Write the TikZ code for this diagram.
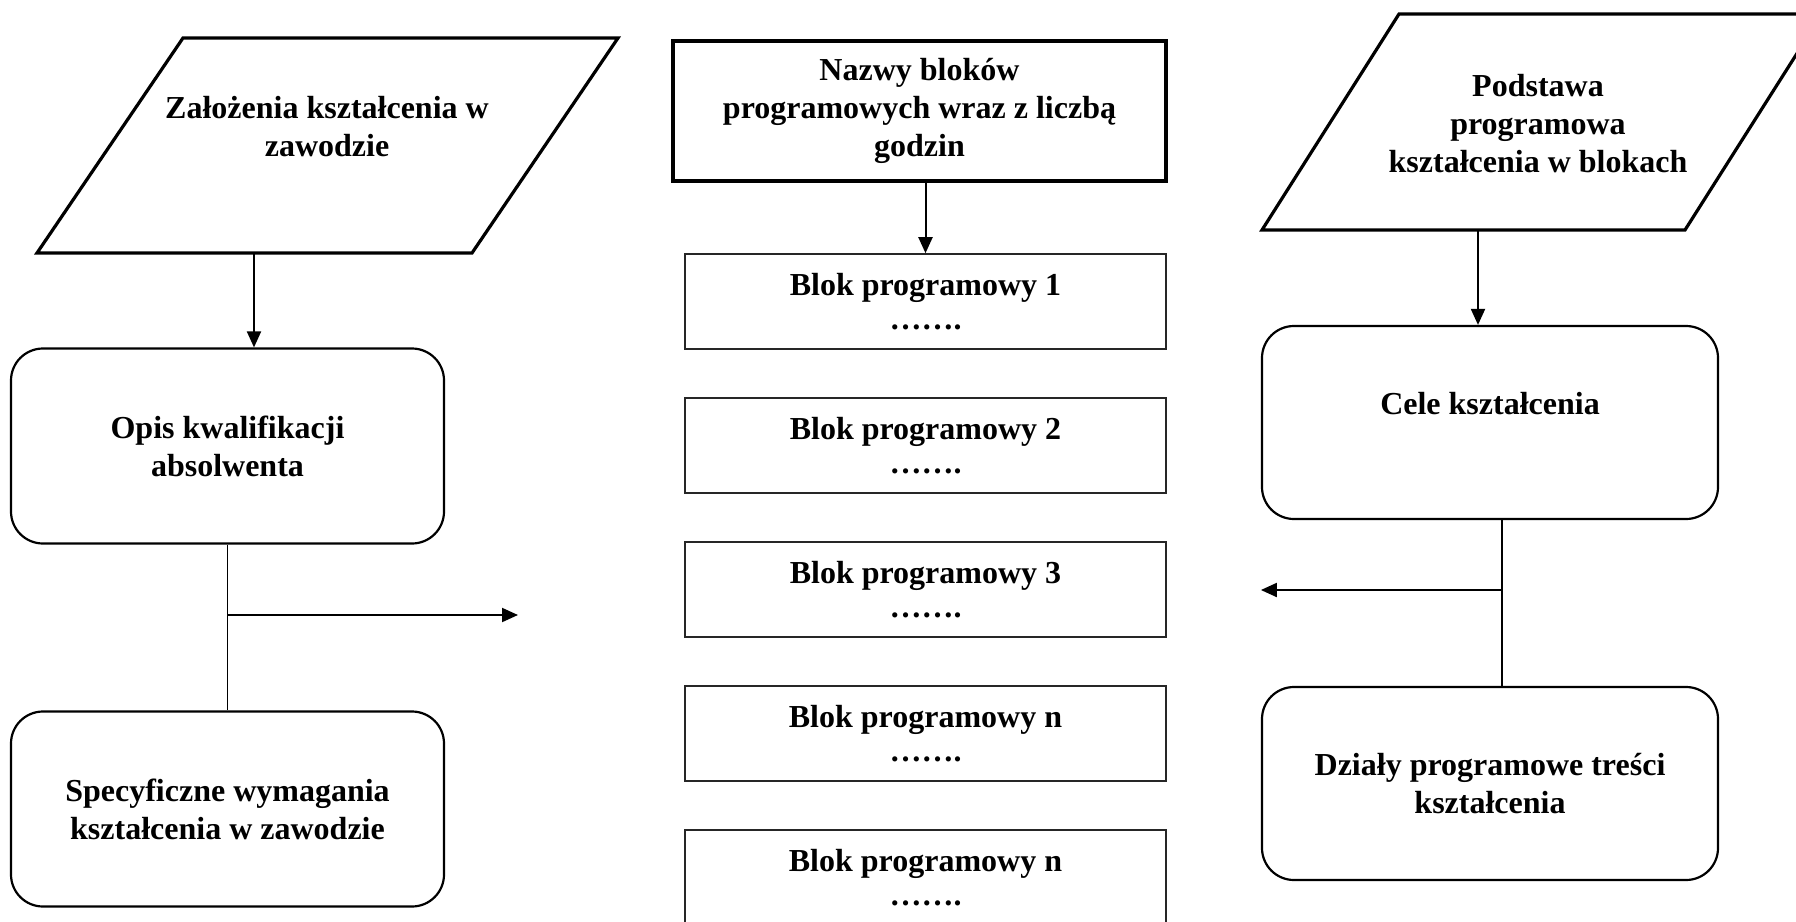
\documentclass[tikz,border=0pt]{standalone}
\usepackage{fontspec}
\setmainfont{Liberation Serif}
\usetikzlibrary{arrows.meta,positioning,calc}
\tikzset{
	txt/.style={font=\bfseries\fontsize{16}{19}\selectfont, align=center, inner sep=0pt},
	rbox/.style={txt, draw, line width=1.1pt, rounded corners=16pt, minimum width=216.5pt, minimum height=97.5pt},
	cbox/.style={txt, draw, line width=1.1pt, rounded corners=16pt, minimum width=228pt, minimum height=96.5pt},
	nbox/.style={txt, draw, line width=1.6pt, minimum width=246.5pt, minimum height=70pt},
	bbox/.style={txt, draw=black!85, line width=0.8pt, minimum width=240.5pt, minimum height=47.5pt, font=\bfseries\fontsize{16}{17}\selectfont},
	para/.style={line width=1.6pt, line join=miter},
	conn/.style={line width=0.8pt},
	arr/.style={line width=1pt, -{Triangle[length=8pt,width=7pt]}}
}
\begin{document}
\begin{tikzpicture}[x=0.5pt, y=-0.5pt]
		\useasboundingbox (0,0) rectangle (1796,922);
		\draw[para] (183,38) -- (618,38) -- (472,253) -- (37,253) -- cycle;
		\draw[para] (1399,14) -- (1822,14) -- (1685,230) -- (1262,230) -- cycle;
		\node[txt] (zal) at (327,127) {Założenia kształcenia w\\zawodzie};
		\node[txt] (pod) at (1538,124) {Podstawa\\programowa\\kształcenia w blokach};
		\node[rbox] (opis) at (227.5,446) {Opis kwalifikacji\\absolwenta};
		\node[rbox] (spec) at (227.5,809) {Specyficzne wymagania\\kształcenia w zawodzie};
		\node[nbox] (nazwy) at (919.5,111) {Nazwy bloków\\programowych wraz z liczbą\\godzin};
		\node[bbox] (b1) at (925.5,301.5) {Blok programowy 1\\…….};
		\node[bbox] (b2) at (925.5,445.5) {Blok programowy 2\\…….};
		\node[bbox] (b3) at (925.5,589.5) {Blok programowy 3\\…….};
		\node[bbox] (b4) at (925.5,733.5) {Blok programowy n\\…….};
		\node[bbox] (b5) at (925.5,877.5) {Blok programowy n\\…….};
		\node[cbox] (cele) at (1490,422.5) {Cele kształcenia\\~};
		\node[cbox] (dzialy) at (1490,783.5) {Działy programowe treści\\kształcenia};
		\coordinate (zalb) at (254,253);
		\coordinate (podb) at (1478,230);
		\coordinate (lj) at (227.5,615);
		\coordinate (lt) at (518,615);
		\coordinate (rj) at (1502,590);
		\draw[arr] (zalb) -- (zalb |- opis.north);
		\draw[arr] (podb) -- (podb |- cele.north);
		\draw[arr] (b1.north |- nazwy.south) -- (b1.north);
		\draw[conn] (opis.south) -- (spec.north);
		\draw[arr] (lj) -- (lt);
		\draw[conn] (cele.south -| rj) -- (dzialy.north -| rj);
		\draw[arr] (rj) -- (rj -| cele.west);
	\end{tikzpicture}
\end{document}
